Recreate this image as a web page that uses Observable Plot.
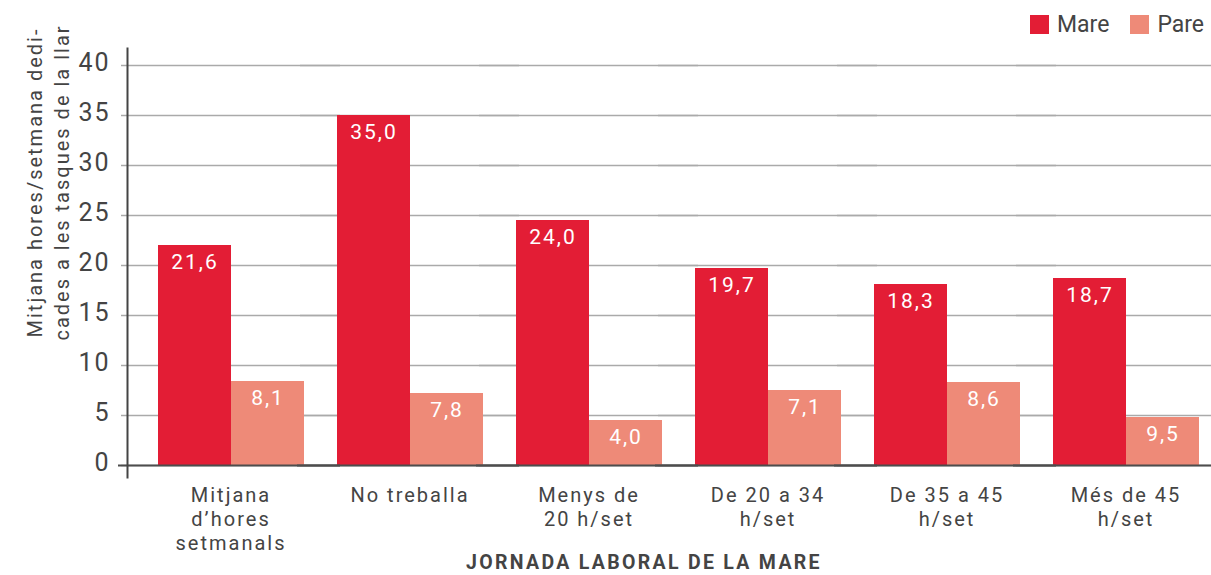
<!DOCTYPE html>
<html>
<head>
<meta charset="utf-8">
<script src="https://cdn.jsdelivr.net/npm/d3@7"></script>
<script src="https://cdn.jsdelivr.net/npm/@observablehq/plot@0.6"></script>
<style>
html, body { margin: 0; padding: 0; background: #fff; overflow: hidden; }
#wrap { position: relative; width: 1211px; height: 575px; font-family: Roboto, sans-serif; color: #444; overflow: hidden; }
#legend { position: absolute; top: 14px; left: 1030px; display: flex; align-items: center; font-size: 23px; line-height: 19px; }
#legend .item { display: flex; align-items: center; margin-right: 21px; }
#legend .sw { width: 19px; height: 19px; display: inline-block; margin-right: 8px; }
#legend .lab { padding-top: 1px; }
#xtitle { position: absolute; left: 444px; width: 400px; top: 554px; text-align: center; font-weight: 700; font-size: 19.5px; letter-spacing: 2.3px; line-height: 18px; color: #444; white-space: nowrap; }
#chart svg text { letter-spacing: 2px; }
</style>
</head>
<body>
<div id="wrap">
  <div id="chart"></div>
  <div id="legend"></div>
  <div id="xtitle"></div>
</div>
<script>
// ---- data ----
const categories = ["Mitjana d’hores setmanals", "No treballa", "Menys de 20 h/set", "De 20 a 34 h/set", "De 35 a 45 h/set", "Més de 45 h/set"];
const categoryLabels = ["Mitjana\nd’hores\nsetmanals", "No treballa", "Menys de\n20 h/set", "De 20 a 34\nh/set", "De 35 a 45\nh/set", "Més de 45\nh/set"];
const series = ["Mare", "Pare"];
const seriesColors = ["#e31d35", "#ee8a78"];
// bar heights as drawn in the picture
const mareValues = [22.0, 35.0, 24.5, 19.7, 18.1, 18.7];
const pareValues = [8.4, 7.2, 4.5, 7.5, 8.3, 4.8];
// value labels as printed on the bars
const mareLabels = ["21,6", "35,0", "24,0", "19,7", "18,3", "18,7"];
const pareLabels = ["8,1", "7,8", "4,0", "7,1", "8,6", "9,5"];
const yTicks = [0, 5, 10, 15, 20, 25, 30, 35, 40];
const yTitle = "Mitjana hores/setmana dedi-\ncades a les tasques de la llar";
const xTitle = "JORNADA LABORAL DE LA MARE";

const seriesValues = [mareValues, pareValues];
const seriesLabels = [mareLabels, pareLabels];
const rows = categories.flatMap((c, i) => series.map((s, j) => ({
  cat: c, series: s, value: seriesValues[j][i], label: seriesLabels[j][i]
})));

const plot = Plot.plot({
  width: 1211,
  height: 575,
  marginTop: 65,
  marginBottom: 110,
  marginLeft: 127,
  marginRight: 0,
  style: { fontFamily: "Roboto, sans-serif", color: "#444", background: "transparent" },
  fx: { domain: categories, paddingInner: 0.1788, paddingOuter: 0.1173, align: 0.714, label: null, axis: null },
  x: { domain: series, padding: 0, axis: null },
  y: { domain: [0, 40], label: null, axis: null },
  color: { domain: series, range: seriesColors },
  marks: [
    Plot.ruleY(yTicks, { stroke: "#aaa", strokeWidth: 1.5, insetLeft: -36, insetRight: -36 }),
    Plot.barY(rows, { fx: "cat", x: "series", y: "value", fill: "series" }),
    Plot.text(rows, { fx: "cat", x: "series", y: "value", text: "label", fill: "white", fontSize: 21, lineAnchor: "top", dy: 9 }),
    Plot.ruleY([0], { stroke: "#4d4d4d", strokeWidth: 2.2, insetLeft: -39, insetRight: -36 }),
    Plot.frame({ facet: "super", anchor: "left", stroke: "#444", strokeWidth: 2, insetLeft: -30, insetTop: -17, insetBottom: -12 }),
    Plot.axisY(yTicks, { tickSize: 0, tickPadding: 47, fontSize: 25, dy: -2.5, fill: "#444", label: null }),
    Plot.axisFx({ anchor: "bottom", tickSize: 0, tickPadding: 19, fontSize: 20, lineHeight: 1.2, fill: "#444",
      tickFormat: (d) => categoryLabels[categories.indexOf(d)], label: null }),
    Plot.text([yTitle], { facet: "super", frameAnchor: "left", rotate: -90, textAnchor: "middle", lineAnchor: "middle",
      lineHeight: 1.36, fontSize: 20, fill: "#444", dx: -110.5, dy: -83 })
  ]
});
document.getElementById("chart").appendChild(plot);

// legend from the colour scale
const color = plot.scale("color");
const legend = document.getElementById("legend");
color.domain.forEach((s, i) => {
  const item = document.createElement("span");
  item.className = "item";
  const sw = document.createElement("span");
  sw.className = "sw";
  sw.style.background = color.range[i];
  const lab = document.createElement("span");
  lab.className = "lab";
  lab.textContent = s;
  item.appendChild(sw);
  item.appendChild(lab);
  legend.appendChild(item);
});
document.getElementById("xtitle").textContent = xTitle;
</script>
</body>
</html>
